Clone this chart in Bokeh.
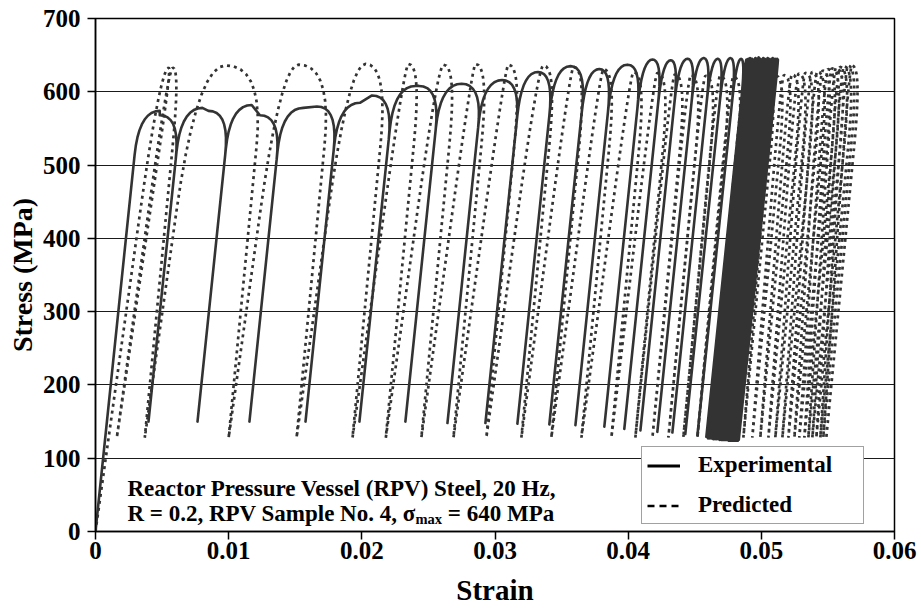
import numpy as np
from bokeh.plotting import figure
from bokeh.models import Range1d, FixedTicker, Legend, LegendItem, Label
from bokeh.embed import file_html
from bokeh.resources import INLINE

# ---------------- data ----------------
x_ticks = [0, 0.01, 0.02, 0.03, 0.04, 0.05, 0.06]
x_tick_labels = ["0", "0.01", "0.02", "0.03", "0.04", "0.05", "0.06"]
y_ticks = [0, 100, 200, 300, 400, 500, 600, 700]

# Experimental: strain / stress at each stress minimum (valley) and top stresses of each cycle
exp_valley_strain = [0.0, 0.00398, 0.00766, 0.01156, 0.01577, 0.01982, 0.02327, 0.02643,
                     0.02928, 0.03168, 0.03408, 0.03604, 0.03821, 0.03971, 0.04092, 0.04219,
                     0.04332, 0.04429, 0.04520, 0.04587,
                     0.04600, 0.04613, 0.04626, 0.04639, 0.04652, 0.04664, 0.04676, 0.04688,
                     0.04700, 0.04711, 0.04722, 0.04733, 0.04744, 0.04754, 0.04764, 0.04774,
                     0.04783, 0.04792, 0.04801, 0.04809, 0.04817, 0.04824, 0.04830]
exp_valley_stress = [0, 150, 150, 150, 150, 150, 150, 148, 148, 147, 146, 145, 143, 140, 138,
                     136, 135, 133, 131, 129,
                     127, 127, 127, 126, 126, 126, 126, 125, 125, 125, 125, 125, 125, 124,
                     124, 124, 124, 124, 124, 124, 124, 124, 124]
exp_top_left = [574, 578, 582, 578, 585, 608, 611, 616, 627, 635, 631, 637, 644, 643, 645,
                646, 645, 646, 645,
                644, 645, 646, 645, 644, 646, 645, 647, 645, 644, 646, 645, 644, 646, 645,
                644, 645, 646, 644, 645, 643, 645, 644]
exp_top_right = [568, 574, 568, 580, 595, 608, 611, 616, 627, 635, 631, 637, 644, 643, 645,
                 646, 645, 646, 645,
                 644, 645, 646, 645, 644, 646, 645, 647, 645, 644, 646, 645, 644, 646, 645,
                 644, 645, 646, 644, 645, 643, 645, 644]

# Predicted: valley strains (stress min = 128 MPa), peak strains and peak stresses
pred_min_stress = 128
pred_valley_strain = [0.0, 0.0016, 0.0037, 0.0100, 0.0151, 0.0193, 0.0218, 0.02447, 0.02688,
                      0.02935, 0.03198, 0.03423, 0.03649, 0.03874, 0.04054, 0.04182, 0.04302,
                      0.04414, 0.04520, 0.04617, 0.04707, 0.04790, 0.04865, 0.04932, 0.04992,
                      0.05053, 0.05105, 0.05158, 0.05203, 0.05248, 0.05285, 0.05323, 0.05353,
                      0.05383, 0.05413, 0.05443, 0.05465, 0.05488]
pred_peak_strain = [0.0055, 0.0058, 0.00976, 0.01524, 0.02027, 0.0235, 0.02613, 0.02853,
                    0.0310, 0.03363, 0.03589, 0.03814, 0.04039, 0.04219,
                    0.0435, 0.0447, 0.0458, 0.0469, 0.0479, 0.0488, 0.0497, 0.0504, 0.0511,
                    0.0517, 0.0523, 0.0528, 0.0533, 0.0538, 0.0542, 0.0546, 0.0550, 0.0553,
                    0.0556, 0.0559, 0.0562, 0.0565, 0.0568]
pred_peak_stress = [633, 633, 636, 637, 638, 638, 637, 638, 637, 636, 634, 631, 627, 626,
                    624, 623, 622, 622, 621, 621, 621, 622, 622, 623, 624, 625, 626, 627,
                    628, 629, 631, 632, 633, 634, 635, 636, 636]


# ---------------- path construction ----------------
def quad(p0, p1, p2, n=10):
    t = np.linspace(0, 1, n)
    x = (1 - t) ** 2 * p0[0] + 2 * (1 - t) * t * p1[0] + t ** 2 * p2[0]
    y = (1 - t) ** 2 * p0[1] + 2 * (1 - t) * t * p1[1] + t ** 2 * p2[1]
    return list(zip(x, y))


def exp_cycle(a, sa, b, sb, P1, P2):
    E, rl, rw = 175000.0, 60.0, 0.0016
    xL = a + (P1 - sa) / E
    xR = b + (P2 - sb) / E
    w = min(rw, (xR - xL) / 2)
    xp1, xp2 = xL + w, xR - w
    c1 = (a + (P1 - rl - sa) / E, P1 - rl)
    c2 = (b + (P2 - rl - sb) / E, P2 - rl)
    return [(a, sa)] + quad(c1, (xL, P1), (xp1, P1)) + quad((xp2, P2), (xR, P2), c2) + [(b, sb)]


def pred_cycle(a, sa, b, sb, xp, P):
    Er, Eu, rl, rr = 130000.0, 190000.0, 200.0, 110.0
    xL = min(a + (P - sa) / Er, xp - 0.0002)
    t1 = (P - rl - sa) / (P - sa)
    c1 = (a + t1 * (xL - a), P - rl)
    xR = max(b + (P - sb) / Eu, xp + 0.0002)
    t2 = (P - rr - sb) / (P - sb)
    c2 = (b + t2 * (xR - b), P - rr)
    return [(a, sa)] + quad(c1, (xL, P), (xp, P)) + quad((xp, P), (xR, P), c2)[1:] + [(b, sb)]


ex, ey = [], []
for i in range(len(exp_valley_strain) - 1):
    pts = exp_cycle(exp_valley_strain[i], exp_valley_stress[i],
                    exp_valley_strain[i + 1], exp_valley_stress[i + 1],
                    exp_top_left[i], exp_top_right[i])
    if i > 0:
        pts = pts[1:]
    ex += [q[0] for q in pts]
    ey += [q[1] for q in pts]

px_, py_ = [], []
for i in range(len(pred_valley_strain) - 1):
    sa = 0 if i == 0 else pred_min_stress
    pts = pred_cycle(pred_valley_strain[i], sa, pred_valley_strain[i + 1], pred_min_stress,
                     pred_peak_strain[i], pred_peak_stress[i])
    if i > 0:
        pts = pts[1:]
    px_ += [q[0] for q in pts]
    py_ += [q[1] for q in pts]

# ---------------- figure ----------------
FONT = "Liberation Serif"
p = figure(width=921, height=614, x_range=Range1d(0, 0.06), y_range=Range1d(0, 700),
           output_backend="svg", toolbar_location=None,
           min_border_left=95, min_border_right=27, min_border_top=18, min_border_bottom=83)
p.background_fill_color = "white"
p.border_fill_color = "white"
p.outline_line_color = "black"
p.outline_line_width = 1.5

p.xaxis.ticker = FixedTicker(ticks=x_ticks)
p.xaxis.major_label_overrides = {t: l for t, l in zip(x_ticks, x_tick_labels)}
p.yaxis.ticker = FixedTicker(ticks=y_ticks)
p.ygrid.ticker = FixedTicker(ticks=y_ticks)
p.xgrid.visible = False
p.ygrid.grid_line_color = "#1a1a1a"
p.ygrid.grid_line_width = 1

for ax in (p.xaxis[0], p.yaxis[0]):
    ax.major_tick_out = 8
    ax.major_tick_in = 0
    ax.minor_tick_out = 0
    ax.minor_tick_in = 0
    ax.axis_line_color = "black"
    ax.axis_line_width = 1.5
    ax.major_tick_line_color = "black"
    ax.major_tick_line_width = 1.5
    ax.major_label_text_font = FONT
    ax.major_label_text_font_style = "bold"
    ax.major_label_text_font_size = "25px"
    ax.major_label_text_color = "black"
    ax.axis_label_text_font = FONT
    ax.axis_label_text_font_style = "bold"
    ax.axis_label_text_color = "black"

p.xaxis.axis_label = "Strain"
p.yaxis.axis_label = "Stress (MPa)"
p.xaxis.axis_label_text_font_size = "29px"
p.yaxis.axis_label_text_font_size = "28px"
p.xaxis.major_label_standoff = 2
p.xaxis.axis_label_standoff = 12
p.yaxis.major_label_standoff = 7
p.yaxis.axis_label_standoff = 2

p.line(px_, py_, line_color="#333333", line_width=2.7, line_dash="3 4")
p.line(ex, ey, line_color="#333333", line_width=2.6, line_join="round")

# legend glyphs (kept outside the visible range)
r_leg_exp = p.line([-1, -0.9], [-100, -100], line_color="black", line_width=3)
r_leg_pred = p.line([-1, -0.9], [-100, -100], line_color="black", line_width=2.5,
                    line_dash="7 5")
legend = Legend(items=[LegendItem(label="Experimental", renderers=[r_leg_exp]),
                       LegendItem(label="Predicted", renderers=[r_leg_pred])],
                location=(546, 7), label_text_font=FONT, label_text_font_style="bold",
                label_text_font_size="23px", label_text_color="black",
                glyph_width=33, glyph_height=23, label_height=23, label_width=160,
                label_standoff=18, spacing=14, padding=5, margin=0,
                border_line_color="#444444", border_line_width=1.5,
                background_fill_color="white", background_fill_alpha=1.0)
p.add_layout(legend)

# annotation
ann_x = 0.0024
lab_kw = dict(text_font=FONT, text_font_style="bold", text_color="black",
              text_baseline="alphabetic")
p.add_layout(Label(x=ann_x, y=58.5, text="Reactor Pressure Vessel (RPV) Steel, 20 Hz,",
                   text_font_size="23px", **lab_kw))
p.add_layout(Label(x=ann_x, y=24.5, text="R = 0.2, RPV Sample No. 4, \u03c3",
                   text_font_size="23px", **lab_kw))
p.add_layout(Label(x=0.02403, y=16.5, text="max", text_font_size="14.5px", **lab_kw))
p.add_layout(Label(x=0.02646, y=24.5, text="= 640 MPa", text_font_size="23px", **lab_kw))

open("out.html", "w").write(file_html(p, INLINE))
